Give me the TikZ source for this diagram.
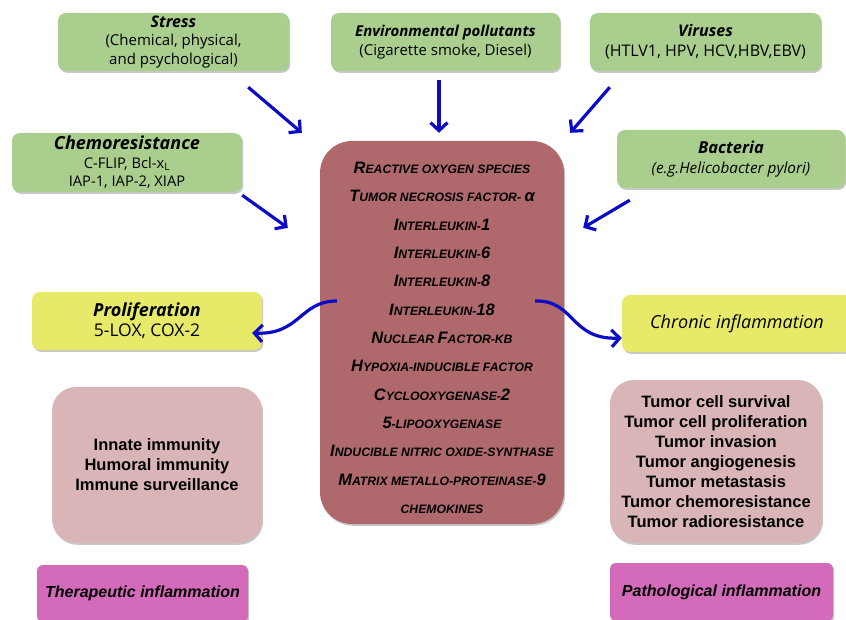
\documentclass[tikz,border=0pt]{standalone}
\usepackage{fontspec}
\setmainfont{Liberation Sans}
\newfontfamily\comic{Open Sans}
\usetikzlibrary{arrows.meta,calc,shadows}
\definecolor{boxgreen}{RGB}{169,206,142}
\definecolor{boxyellow}{RGB}{230,234,104}
\definecolor{boxmaroon}{RGB}{175,105,108}
\definecolor{boxpink}{RGB}{217,181,183}
\definecolor{boxmagenta}{RGB}{212,106,186}
\definecolor{arrowblue}{RGB}{12,12,200}
\newcommand{\BigL}[1]{{\fontsize{16.5}{28.33}\selectfont #1}}
\newcommand{\ttlfont}{\bfseries\itshape}
\begin{document}
\begin{tikzpicture}[x=1pt,y=-1pt,
  softshadow/.style={drop shadow={shadow xshift=1.2pt,shadow yshift=-1.8pt,opacity=0.22,fill=black}},
  gbox/.style={rounded corners=8pt,fill=boxgreen,align=center,inner sep=0pt,softshadow,
               font=\comic\fontsize{15}{18.5}\selectfont},
  ybox/.style={rounded corners=8pt,fill=boxyellow,align=center,inner sep=0pt,softshadow,
               font=\comic\fontsize{17.5}{20}\selectfont},
  cbox/.style={rounded corners=32pt,fill=boxmaroon,inner sep=0pt,softshadow},
  ctext/.style={align=center,inner sep=0pt,font=\fontsize{12.2}{28.33}\selectfont\bfseries\itshape},
  pbox/.style={rounded corners=24pt,fill=boxpink,align=center,inner sep=0pt,softshadow,
               font=\fontsize{16.5}{20}\selectfont\bfseries},
  mbox/.style={rounded corners=6pt,fill=boxmagenta,align=center,inner sep=0pt,softshadow,
               font=\fontsize{16}{20}\selectfont\bfseries\itshape},
  barrow/.style={draw=arrowblue,line width=3.2pt,-{Straight Barb[length=8pt,width=17pt]}}
]
\fill[white] (0,0) rectangle (846,620);
\useasboundingbox (0,0) rectangle (846,620);

% top row
\node[gbox,minimum width=231pt,minimum height=58pt] (stress) at (173.5,42)
  {{\ttlfont\fontsize{16}{18.5}\selectfont Stress}\\(Chemical, physical,\\and psychological)};
\node[gbox,minimum width=229pt,minimum height=58pt] (env) at (445.5,42)
  {{\ttlfont\fontsize{15}{20}\selectfont Environmental pollutants}\\(Cigarette smoke, Diesel)};
\node[gbox,minimum width=231pt,minimum height=58pt,font=\comic\fontsize{16}{20}\selectfont] (vir) at (705.5,42)
  {{\ttlfont\fontsize{16}{20}\selectfont Viruses}\\(HTLV1, HPV, HCV,HBV,EBV)};

% second row
\node[gbox,minimum width=230pt,minimum height=59pt,font=\comic\fontsize{14.7}{18.5}\selectfont] (chemo) at (127,162.5)
  {{\ttlfont\fontsize{18}{18.5}\selectfont Chemoresistance}\\C-FLIP, Bcl-x\textsubscript{L}\\IAP-1, IAP-2, XIAP};
\node[gbox,minimum width=228pt,minimum height=58pt,font=\comic\itshape\fontsize{15.3}{20}\selectfont] (bact) at (731,159)
  {{\ttlfont\fontsize{16.5}{20}\selectfont Bacteria}\\(e.g.Helicobacter pylori)};

% central box
\node[cbox,minimum width=244pt,minimum height=383pt] (center) at (442,332.5) {};
\node[ctext] (ctext) at (442,338) {%
\BigL{R}EACTIVE OXYGEN SPECIES\\
\BigL{T}UMOR NECROSIS FACTOR- \BigL{α}\\
\BigL{I}NTERLEUKIN-\BigL{1}\\
\BigL{I}NTERLEUKIN-\BigL{6}\\
\BigL{I}NTERLEUKIN-\BigL{8}\\
\BigL{I}NTERLEUKIN-\BigL{18}\\
\BigL{N}UCLEAR \BigL{F}ACTOR-KB\\
\BigL{H}YPOXIA-INDUCIBLE FACTOR\\
\BigL{C}YCLOOXYGENASE-\BigL{2}\\
\BigL{5}-LIPOOXYGENASE\\
\BigL{I}NDUCIBLE NITRIC OXIDE-SYNTHASE\\
\BigL{M}ATRIX METALLO-PROTEINASE-\BigL{9}\\
CHEMOKINES};

% yellow boxes
\node[ybox,minimum width=230pt,minimum height=58pt] (prolif) at (147,321)
  {{\ttlfont\fontsize{18}{20}\selectfont Proliferation}\\5-LOX, COX-2};
\node[ybox,minimum width=230pt,minimum height=57pt,font=\comic\itshape\fontsize{18}{20}\selectfont] (chronic) at (737,323.5)
  {Chronic inflammation};

% pink boxes
\node[pbox,minimum width=210pt,minimum height=156pt] (innate) at (157,465)
  {Innate immunity\\Humoral immunity\\Immune surveillance};
\node[pbox,minimum width=212pt,minimum height=163pt] (tumor) at (716,461.5)
  {Tumor cell survival\\Tumor cell proliferation\\Tumor invasion\\Tumor angiogenesis\\Tumor metastasis\\Tumor chemoresistance\\Tumor radioresistance};

% magenta boxes
\node[mbox,minimum width=211pt,minimum height=57pt] (thera) at (142.5,593.5) {Therapeutic inflammation};
\node[mbox,minimum width=223pt,minimum height=58pt] (patho) at (721.5,592) {Pathological inflammation};

% straight arrows
\draw[barrow] ($(stress.south east)+(-41,16)$) -- ($(center.north west)+(-18,-8)$);
\draw[barrow] ($(env.south)+(-6.5,9)$) -- ($(center.north)+(-3,-8)$);
\draw[barrow] ($(vir.south west)+(20,16)$) -- ($(center.north east)+(6,-8)$);
\draw[barrow] ($(chemo.south east)+(0,3)$) -- ($(center.north west)+(-32,87)$);
\draw[barrow] ($(bact.south west)+(13,12)$) -- ($(center.north east)+(19,87)$);

% curved arrows
\coordinate (ls) at ($(center.west)+(17,-31.5)$);
\coordinate (le) at ($(prolif.east)+(-10,12)$);
\draw[barrow] (ls) .. controls ($(ls)+(-37,0)$) and ($(le)+(48,2)$) .. (le);
\coordinate (rs) at ($(center.east)+(-29,-31.5)$);
\coordinate (re) at ($(chronic.west)+(0,14.5)$);
\draw[barrow] (rs) .. controls ($(rs)+(40,-1)$) and ($(re)+(-52,2)$) .. (re);
\end{tikzpicture}
\end{document}
